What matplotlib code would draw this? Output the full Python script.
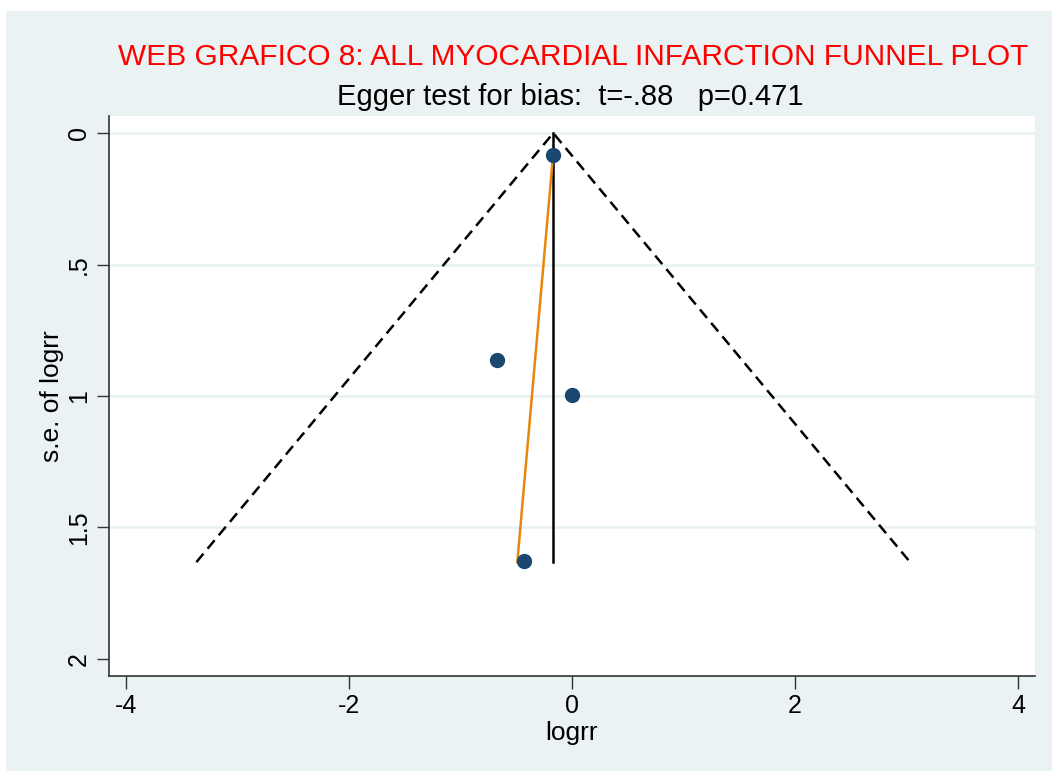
import numpy as np
import matplotlib.pyplot as plt

plt.rcParams['font.family'] = ['Liberation Sans', 'DejaVu Sans']

# study estimates
logrr = [-0.17, -0.67, 0.00, -0.43]
se_logrr = [0.085, 0.863, 0.996, 1.627]

# pooled estimate and funnel limits
pooled = -0.168
se_max = 1.632

# Egger regression line endpoints (se, logrr)
egger_se = [0.085, 1.632]
egger_logrr = [-0.17, -0.49]

x_ticks = [-4, -2, 0, 2, 4]
y_ticks = [0, 0.5, 1, 1.5, 2]
y_tick_labels = ['0', '.5', '1', '1.5', '2']

BG = '#EAF2F3'
NAVY = '#1A476F'
ORANGE = '#E8870E'

fig = plt.figure(figsize=(10.52, 7.71), dpi=100)
fig.patch.set_facecolor('white')
# light blue panel with white margin
fig.patches.append(plt.Rectangle((6 / 1052, 0), 1 - 6 / 1052, 1 - 11 / 771,
                                 transform=fig.transFigure, facecolor=BG,
                                 edgecolor='none', zorder=-10))

ax = fig.add_axes([109 / 1052, 1 - 676 / 771, (1035 - 109) / 1052, (676 - 116) / 771])
ax.set_facecolor('white')

for y in [0, 0.5, 1, 1.5]:
    ax.axhline(y, color=BG, lw=2, zorder=0)

# funnel
lo = pooled - 1.96 * se_max
hi = pooled + 1.96 * se_max
ax.plot([lo, pooled, hi], [se_max, 0, se_max], color='black', lw=1.8,
        dashes=(4.4, 2.6), zorder=2)
ax.plot([pooled, pooled], [0, se_max], color='black', lw=1.8, zorder=2)

# egger line
ax.plot(egger_logrr, egger_se, color=ORANGE, lw=1.8, zorder=3)

ax.plot(logrr, se_logrr, 'o', color=NAVY, markersize=10, zorder=4)

ax.set_xlim(-4.15, 4.15)
ax.set_ylim(2.065, -0.065)
ax.set_xticks(x_ticks)
ax.set_xticklabels([str(t) for t in x_ticks])
ax.set_yticks(y_ticks)
ax.set_yticklabels(y_tick_labels, rotation=90, va='center')

for s in ['top', 'right']:
    ax.spines[s].set_visible(False)
for s in ['left', 'bottom']:
    ax.spines[s].set_color('#333333')
    ax.spines[s].set_linewidth(1.2)
ax.tick_params(direction='out', length=9, width=1, color='#333333',
               labelsize=18, pad=4)

ax.set_xlabel('logrr', fontsize=19, labelpad=2)
ax.set_ylabel('s.e. of logrr', fontsize=19, labelpad=2)

fig.text(573 / 1052, 1 - 57 / 771, 'WEB GRAFICO 8: ALL MYOCARDIAL INFARCTION FUNNEL PLOT',
         color='#FF0000', fontsize=21.5, ha='center', va='center')
fig.text(570 / 1052, 1 - 97 / 771, 'Egger test for bias:  t=-.88   p=0.471',
         color='black', fontsize=21, ha='center', va='center')

fig.savefig('out.png', dpi=100, facecolor=fig.get_facecolor())
